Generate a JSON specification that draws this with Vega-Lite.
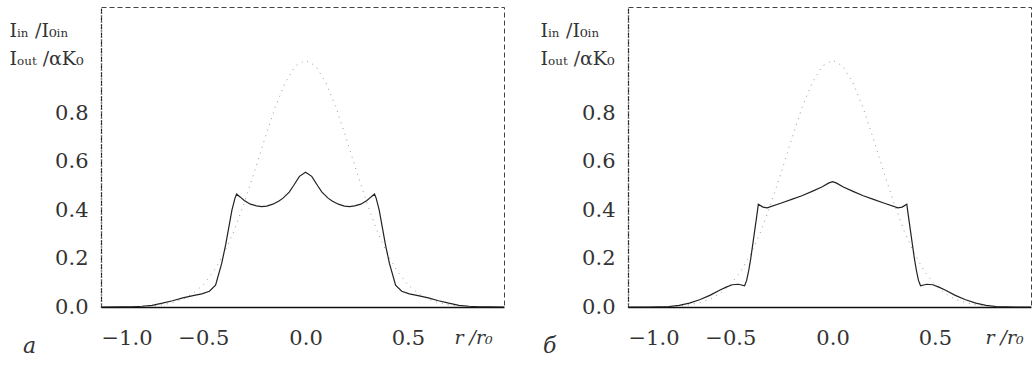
{
"$schema": "https://vega.github.io/schema/vega-lite/v6.json",
"padding": {"left": 8, "top": 6, "right": 5, "bottom": 0},
"background": "white",
"spacing": 34,
"datasets": {
"iin": [
{"r": -1.0, "I": 0}, {"r": -0.9, "I": 0}, {"r": -0.8, "I": 0.002}, {"r": -0.75, "I": 0.005}, {"r": -0.7, "I": 0.009}, {"r": -0.65, "I": 0.018}, {"r": -0.6, "I": 0.032}, {"r": -0.55, "I": 0.056}, {"r": -0.5, "I": 0.092}, {"r": -0.45, "I": 0.146}, {"r": -0.4, "I": 0.219}, {"r": -0.35, "I": 0.314}, {"r": -0.3, "I": 0.43}, {"r": -0.25, "I": 0.559}, {"r": -0.2, "I": 0.694}, {"r": -0.15, "I": 0.822}, {"r": -0.1, "I": 0.926}, {"r": -0.05, "I": 0.996}, {"r": 0, "I": 1.02},
{"r": 0.05, "I": 0.996}, {"r": 0.1, "I": 0.926}, {"r": 0.15, "I": 0.822}, {"r": 0.2, "I": 0.694}, {"r": 0.25, "I": 0.559}, {"r": 0.3, "I": 0.43}, {"r": 0.35, "I": 0.314}, {"r": 0.4, "I": 0.219}, {"r": 0.45, "I": 0.146}, {"r": 0.5, "I": 0.092}, {"r": 0.55, "I": 0.056}, {"r": 0.6, "I": 0.032}, {"r": 0.65, "I": 0.018}, {"r": 0.7, "I": 0.009}, {"r": 0.75, "I": 0.005}, {"r": 0.8, "I": 0.002}, {"r": 0.9, "I": 0}, {"r": 0.97, "I": 0}
],
"outA": [
{"r": -1.0, "I": 0}, {"r": -0.9, "I": 0.001}, {"r": -0.85, "I": 0.001}, {"r": -0.8, "I": 0.003}, {"r": -0.75, "I": 0.007}, {"r": -0.7, "I": 0.016}, {"r": -0.65, "I": 0.026}, {"r": -0.6, "I": 0.038}, {"r": -0.55, "I": 0.047}, {"r": -0.507, "I": 0.054}, {"r": -0.47, "I": 0.065}, {"r": -0.44, "I": 0.09}, {"r": -0.41, "I": 0.18}, {"r": -0.39, "I": 0.26}, {"r": -0.375, "I": 0.33}, {"r": -0.36, "I": 0.4}, {"r": -0.345, "I": 0.45}, {"r": -0.337, "I": 0.467}, {"r": -0.32, "I": 0.455}, {"r": -0.3, "I": 0.44}, {"r": -0.27, "I": 0.425}, {"r": -0.24, "I": 0.418}, {"r": -0.215, "I": 0.415}, {"r": -0.19, "I": 0.417}, {"r": -0.16, "I": 0.425}, {"r": -0.13, "I": 0.438}, {"r": -0.11, "I": 0.45}, {"r": -0.08, "I": 0.475}, {"r": -0.06, "I": 0.5}, {"r": -0.03, "I": 0.54}, {"r": 0, "I": 0.557},
{"r": 0.03, "I": 0.54}, {"r": 0.06, "I": 0.5}, {"r": 0.08, "I": 0.475}, {"r": 0.11, "I": 0.45}, {"r": 0.13, "I": 0.438}, {"r": 0.16, "I": 0.425}, {"r": 0.19, "I": 0.417}, {"r": 0.215, "I": 0.415}, {"r": 0.24, "I": 0.418}, {"r": 0.27, "I": 0.425}, {"r": 0.3, "I": 0.44}, {"r": 0.32, "I": 0.455}, {"r": 0.337, "I": 0.467}, {"r": 0.345, "I": 0.45}, {"r": 0.36, "I": 0.4}, {"r": 0.375, "I": 0.33}, {"r": 0.39, "I": 0.26}, {"r": 0.41, "I": 0.18}, {"r": 0.44, "I": 0.09}, {"r": 0.47, "I": 0.065}, {"r": 0.507, "I": 0.054}, {"r": 0.55, "I": 0.047}, {"r": 0.6, "I": 0.038}, {"r": 0.65, "I": 0.026}, {"r": 0.7, "I": 0.016}, {"r": 0.75, "I": 0.007}, {"r": 0.8, "I": 0.003}, {"r": 0.85, "I": 0.001}, {"r": 0.9, "I": 0.001}, {"r": 0.97, "I": 0}
],
"outB": [
{"r": -1.0, "I": 0}, {"r": -0.9, "I": 0}, {"r": -0.85, "I": 0.001}, {"r": -0.8, "I": 0.002}, {"r": -0.75, "I": 0.007}, {"r": -0.7, "I": 0.016}, {"r": -0.65, "I": 0.03}, {"r": -0.6, "I": 0.048}, {"r": -0.55, "I": 0.07}, {"r": -0.52, "I": 0.082}, {"r": -0.49, "I": 0.092}, {"r": -0.46, "I": 0.094}, {"r": -0.43, "I": 0.088}, {"r": -0.42, "I": 0.11}, {"r": -0.41, "I": 0.15}, {"r": -0.4, "I": 0.2}, {"r": -0.39, "I": 0.26}, {"r": -0.38, "I": 0.32}, {"r": -0.37, "I": 0.38}, {"r": -0.363, "I": 0.425}, {"r": -0.34, "I": 0.413}, {"r": -0.32, "I": 0.41}, {"r": -0.25, "I": 0.43}, {"r": -0.2, "I": 0.445}, {"r": -0.15, "I": 0.46}, {"r": -0.1, "I": 0.478}, {"r": -0.05, "I": 0.497}, {"r": -0.02, "I": 0.512}, {"r": 0, "I": 0.518},
{"r": 0.02, "I": 0.512}, {"r": 0.05, "I": 0.497}, {"r": 0.1, "I": 0.478}, {"r": 0.15, "I": 0.46}, {"r": 0.2, "I": 0.445}, {"r": 0.25, "I": 0.43}, {"r": 0.32, "I": 0.41}, {"r": 0.34, "I": 0.413}, {"r": 0.363, "I": 0.425}, {"r": 0.37, "I": 0.38}, {"r": 0.38, "I": 0.32}, {"r": 0.39, "I": 0.26}, {"r": 0.4, "I": 0.2}, {"r": 0.41, "I": 0.15}, {"r": 0.42, "I": 0.11}, {"r": 0.43, "I": 0.088}, {"r": 0.46, "I": 0.094}, {"r": 0.49, "I": 0.092}, {"r": 0.52, "I": 0.082}, {"r": 0.55, "I": 0.07}, {"r": 0.6, "I": 0.048}, {"r": 0.65, "I": 0.03}, {"r": 0.7, "I": 0.016}, {"r": 0.75, "I": 0.007}, {"r": 0.8, "I": 0.002}, {"r": 0.85, "I": 0.001}, {"r": 0.9, "I": 0}, {"r": 0.97, "I": 0}
]
},
"config": {
"view": {"stroke": "#444", "strokeDash": [5, 3], "strokeWidth": 1},
"axis": {"labelFont": "DejaVu Serif", "labelFontSize": 21, "labelColor": "#333", "titleFont": "DejaVu Serif", "titleFontWeight": "normal", "titleColor": "#333", "grid": false, "ticks": false, "domainColor": "#111"}
},
"hconcat": [
{
"width": 403, "height": 300,
"title": {"text": "a", "orient": "bottom", "anchor": "start", "frame": "group", "dx": -78, "offset": -12, "font": "DejaVu Serif", "fontStyle": "italic", "fontSize": 22, "fontWeight": "normal", "color": "#333"},
"encoding": {
"x": {"field": "r", "type": "quantitative", "scale": {"domain": [-1, 0.97], "nice": false, "zero": false}, "axis": {"values": [-1, -0.5, 0, 0.5], "format": ".1f", "labelPadding": 20, "domainWidth": 1.5, "title": "r /r₀", "titleFontStyle": "italic", "titleFontSize": 19, "titleAlign": "left", "titleBaseline": "top", "titleX": 353, "titleY": 21}},
"y": {"field": "I", "type": "quantitative", "scale": {"domain": [0, 1.24], "nice": false}, "axis": {"values": [0, 0.2, 0.4, 0.6, 0.8], "format": ".1f", "labelPadding": 13, "domainDash": [1, 2], "domainWidth": 1.5, "title": ["Iᵢₙ /I₀ᵢₙ", "Iₒᵤₜ /αK₀"], "titleAngle": 0, "titleAlign": "left", "titleBaseline": "top", "titleX": -92, "titleY": 14, "titleFontSize": 19, "titleLineHeight": 28}}
},
"layer": [
{"data": {"name": "iin"}, "mark": {"type": "line", "stroke": "#999", "strokeDash": [1, 5], "strokeWidth": 1, "clip": true}, "encoding": {}},
{"data": {"name": "outA"}, "mark": {"type": "line", "stroke": "#222", "strokeWidth": 1.2, "clip": true}, "encoding": {}}
]
},
{
"width": 403, "height": 300,
"title": {"text": "б", "orient": "bottom", "anchor": "start", "frame": "group", "dx": -85, "offset": -12, "font": "DejaVu Serif", "fontStyle": "italic", "fontSize": 22, "fontWeight": "normal", "color": "#333"},
"encoding": {
"x": {"field": "r", "type": "quantitative", "scale": {"domain": [-1, 0.97], "nice": false, "zero": false}, "axis": {"values": [-1, -0.5, 0, 0.5], "format": ".1f", "labelPadding": 20, "domainWidth": 1.5, "title": "r /r₀", "titleFontStyle": "italic", "titleFontSize": 19, "titleAlign": "left", "titleBaseline": "top", "titleX": 357, "titleY": 21}},
"y": {"field": "I", "type": "quantitative", "scale": {"domain": [0, 1.24], "nice": false}, "axis": {"values": [0, 0.2, 0.4, 0.6, 0.8], "format": ".1f", "labelPadding": 13, "domainDash": [1, 2], "domainWidth": 1.5, "title": ["Iᵢₙ /I₀ᵢₙ", "Iₒᵤₜ /αK₀"], "titleAngle": 0, "titleAlign": "left", "titleBaseline": "top", "titleX": -88, "titleY": 14, "titleFontSize": 19, "titleLineHeight": 28}}
},
"layer": [
{"data": {"name": "iin"}, "mark": {"type": "line", "stroke": "#999", "strokeDash": [1, 5], "strokeWidth": 1, "clip": true}, "encoding": {}},
{"data": {"name": "outB"}, "mark": {"type": "line", "stroke": "#222", "strokeWidth": 1.2, "clip": true}, "encoding": {}}
]
}
]
}
